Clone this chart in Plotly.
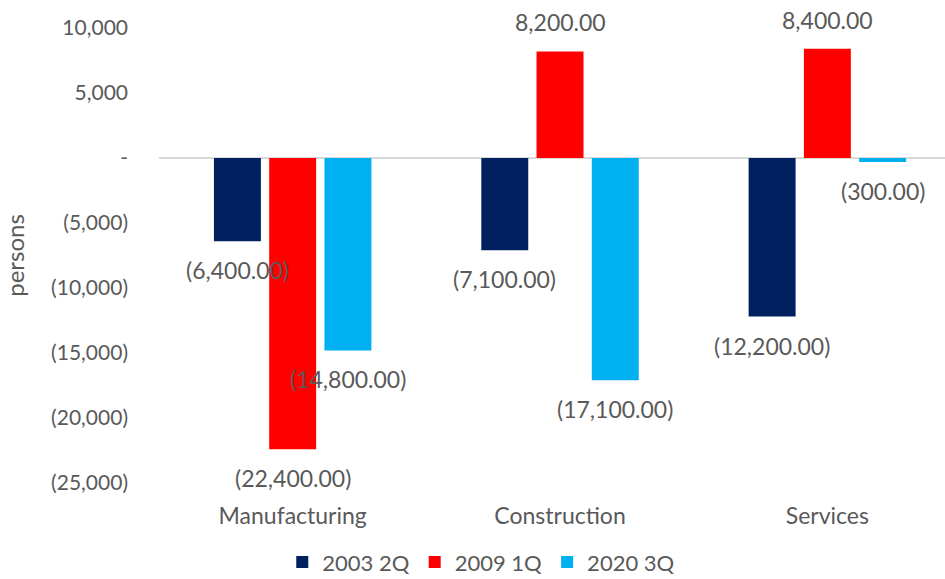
import plotly.graph_objects as go

categories = ["Manufacturing", "Construction", "Services"]
series_names = ["2003 2Q", "2009 1Q", "2020 3Q"]
s2003 = [-6400, -7100, -12200]
s2009 = [-22400, 8200, 8400]
s2020 = [-14800, -17100, -300]
colors = ["#002060", "#FF0000", "#00B0F0"]

tick_vals = [10000, 5000, 0, -5000, -10000, -15000, -20000, -25000]
tick_text = ["10,000", "5,000", "-", "(5,000)", "(10,000)", "(15,000)", "(20,000)", "(25,000)"]

FONT = "Lato"
GREY = "#595959"


def fmt(v):
    s = f"{abs(v):,.2f}"
    return f"({s})" if v < 0 else s


fig = go.Figure()
all_series = [s2003, s2009, s2020]
for name, vals, col in zip(series_names, all_series, colors):
    fig.add_trace(go.Bar(x=categories, y=vals, name=name, marker_color=col,
                         marker_line_width=0))

# data labels
slot_px = 267.3 * (1 - 0.38) / 3
for i, vals in enumerate(all_series):
    for cat, v in zip(categories, vals):
        fig.add_annotation(x=cat, y=v, xref="x", yref="y", text=fmt(v),
                           showarrow=False, xshift=(i - 1) * slot_px,
                           yshift=29 if v > 0 else -29,
                           font=dict(family=FONT, size=23, color=GREY))

fig.update_layout(
    width=945, height=579,
    margin=dict(l=159, r=0, t=28, b=96, autoexpand=False),
    plot_bgcolor="white", paper_bgcolor="white",
    barmode="group", bargap=0.38, bargroupgap=0.15,
    font=dict(family=FONT, size=20, color=GREY),
    showlegend=True,
    legend=dict(orientation="h", x=0.41, xanchor="center", y=-0.174, yanchor="middle",
                font=dict(family=FONT, size=22, color=GREY), itemwidth=30,
                traceorder="normal"),
)
fig.update_xaxes(type="category", range=[-0.5, 2.44], showgrid=False, showline=False,
                 automargin=False,
                 ticks="", tickfont=dict(family=FONT, size=23, color=GREY),
                 ticklabelstandoff=17)
fig.update_yaxes(range=[-25000, 10000], tickvals=tick_vals, ticktext=tick_text,
                 automargin=False,
                 showgrid=False, zeroline=True, zerolinecolor="#D9D9D9", zerolinewidth=2,
                 ticks="", tickfont=dict(family=FONT, size=21, color=GREY),
                 ticklabelstandoff=30,
                 title=dict(text="persons", font=dict(family=FONT, size=24, color=GREY),
                            standoff=22))

fig.write_html("out.html")
